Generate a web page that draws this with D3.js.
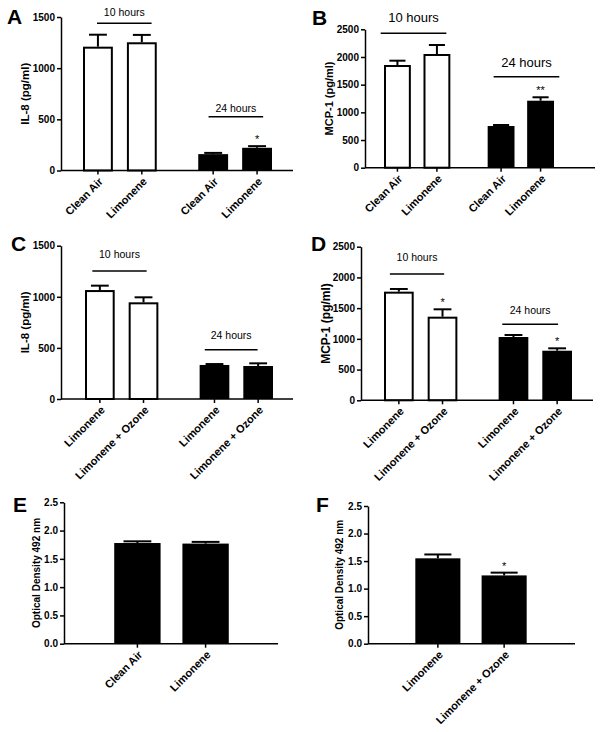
<!DOCTYPE html>
<html><head><meta charset="utf-8">
<script src="https://cdn.jsdelivr.net/npm/d3@7"></script>
<style>
body{margin:0;background:#fff}
text{font-family:"Liberation Sans",Arial,Helvetica,sans-serif;fill:#000}
</style>
</head><body>
<svg id="chart" width="602" height="732"></svg>
<script>
// ---------- DATA ----------
// Panel A : IL-8, clean air vs limonene
const groupsA = ["10 hours", "24 hours"];
const labelsA = ["Clean Air", "Limonene", "Clean Air", "Limonene"];
const meansA  = [1210, 1253, 160, 222];
const semsA   = [117, 72, 12, 16];
const starsA  = ["", "", "", "*"];
const ticksA  = [0, 500, 1000, 1500];

// Panel B : MCP-1, clean air vs limonene
const groupsB = ["10 hours", "24 hours"];
const labelsB = ["Clean Air", "Limonene", "Clean Air", "Limonene"];
const meansB  = [1855, 2054, 753, 1210];
const semsB   = [78, 162, 18, 62];
const starsB  = ["", "", "", "**"];
const ticksB  = [0, 500, 1000, 1500, 2000, 2500];

// Panel C : IL-8, limonene vs limonene + ozone
const groupsC = ["10 hours", "24 hours"];
const labelsC = ["Limonene", "Limonene + Ozone", "Limonene", "Limonene + Ozone"];
const meansC  = [1066, 946, 333, 323];
const semsC   = [43, 49, 9, 26];
const starsC  = ["", "", "", ""];
const ticksC  = [0, 500, 1000, 1500];

// Panel D : MCP-1, limonene vs limonene + ozone
const groupsD = ["10 hours", "24 hours"];
const labelsD = ["Limonene", "Limonene + Ozone", "Limonene", "Limonene + Ozone"];
const meansD  = [1768, 1361, 1030, 807];
const semsD   = [44, 120, 33, 39];
const starsD  = ["", "*", "", "*"];
const ticksD  = [0, 500, 1000, 1500, 2000, 2500];

// Panel E : optical density, clean air vs limonene
const groupsE = [""];
const labelsE = ["Clean Air", "Limonene"];
const meansE  = [1.78, 1.77];
const semsE   = [0.03, 0.03];
const starsE  = ["", ""];
const ticksE  = [0, 0.5, 1.0, 1.5, 2.0, 2.5];

// Panel F : optical density, limonene vs limonene + ozone
const groupsF = [""];
const labelsF = ["Limonene", "Limonene + Ozone"];
const meansF  = [1.55, 1.24];
const semsF   = [0.07, 0.05];
const starsF  = ["", "*"];
const ticksF  = [0, 0.5, 1.0, 1.5, 2.0, 2.5];

// ---------- LAYOUT ----------
const svg = d3.select("#chart");
svg.append("rect").attr("width", 602).attr("height", 732).attr("fill", "#fff");

const panels = [
  {letter: "A", lx: 7, ly: 24, yTitle: "IL-8 (pg/ml)", titleX: 25, titleSize: 11.5,
   axisX: 61, axisEnd: 293, y0: 170.5, yTop: 17, range: [83, 272], fmt: d3.format("d"),
   groups: groupsA, labels: labelsA, means: meansA, sems: semsA, stars: starsA, ticks: ticksA,
   brackets: [{a: 0.19, b: 0.93, v: 1439, dy: 7}, {a: 0.14, b: 0.88, v: 526, dy: 5}], hourSize: 10.5},
  {letter: "B", lx: 312, ly: 25, yTitle: "MCP-1 (pg/ml)", titleX: 329, titleSize: 11,
   axisX: 365, axisEnd: 595, y0: 167.7, yTop: 29.3, range: [384, 554], fmt: d3.format("d"),
   groups: groupsB, labels: labelsB, means: meansB, sems: semsB, stars: starsB, ticks: ticksB,
   brackets: [{a: -0.05, b: 0.94, v: 2428, dy: 11}, {a: 0.09, b: 1.08, v: 1644, dy: 10}], hourSize: 13},
  {letter: "C", lx: 11, ly: 251, yTitle: "IL-8 (pg/ml)", titleX: 25, titleSize: 11.5,
   axisX: 61, axisEnd: 293, y0: 399, yTop: 245.7, range: [85, 273], fmt: d3.format("d"),
   groups: groupsC, labels: labelsC, means: meansC, sems: semsC, stars: starsC, ticks: ticksC,
   brackets: [{a: 0.10, b: 0.84, v: 1252, dy: 13}, {a: 0.07, b: 0.79, v: 482, dy: 11}], hourSize: 10.5},
  {letter: "D", lx: 311, ly: 251, yTitle: "MCP-1 (pg/ml)", titleX: 326, titleSize: 12,
   axisX: 361, axisEnd: 593, y0: 400.3, yTop: 246.7, range: [384, 572], fmt: d3.format("d"),
   groups: groupsD, labels: labelsD, means: meansD, sems: semsD, stars: starsD, ticks: ticksD,
   brackets: [{a: 0.08, b: 0.82, v: 2056, dy: 13}, {a: 0.05, b: 0.81, v: 1237, dy: 10}], hourSize: 10.5},
  {letter: "E", lx: 13, ly: 512, yTitle: "Optical Density 492 nm", titleX: 36, titleSize: 10,
   axisX: 64, axisEnd: 278, y0: 643.7, yTop: 502.3, range: [82, 261], fmt: d3.format(".1f"),
   groups: groupsE, labels: labelsE, means: meansE, sems: semsE, stars: starsE, ticks: ticksE,
   brackets: [], allBlack: true},
  {letter: "F", lx: 316, ly: 512, yTitle: "Optical Density 492 nm", titleX: 339, titleSize: 10,
   axisX: 368, axisEnd: 575, y0: 643.7, yTop: 506, range: [384, 558], fmt: d3.format(".1f"),
   groups: groupsF, labels: labelsF, means: meansF, sems: semsF, stars: starsF, ticks: ticksF,
   brackets: [], allBlack: true}
];

panels.forEach(p => {
  const g = svg.append("g");
  const maxV = p.ticks[p.ticks.length - 1];
  const y = d3.scaleLinear().domain([0, maxV]).range([p.y0, p.yTop]);
  const per = p.labels.length / p.groups.length;
  const outer = d3.scaleBand().domain(p.groups).range(p.range).paddingInner(0.36).paddingOuter(0);
  const inner = d3.scaleBand().domain(d3.range(per)).range([0, outer.bandwidth()]).paddingInner(0.32).paddingOuter(0);
  const bw = inner.bandwidth();

  const data = p.labels.map((lab, i) => {
    const gi = Math.floor(i / per), j = i % per;
    return {lab, mean: p.means[i], sem: p.sems[i], star: p.stars[i], gi,
            x: outer(p.groups[gi]) + inner(j)};
  });

  // bars
  data.forEach(d => {
    const black = p.allBlack || d.gi === 1;
    if (black) {
      g.append("rect").attr("x", d.x).attr("y", y(d.mean))
        .attr("width", bw).attr("height", p.y0 - y(d.mean)).attr("fill", "#000");
    } else {
      g.append("rect").attr("x", d.x + 1).attr("y", y(d.mean) + 1)
        .attr("width", bw - 2).attr("height", p.y0 - y(d.mean) - 1)
        .attr("fill", "#fff").attr("stroke", "#000").attr("stroke-width", 2);
    }
    const cx = d.x + bw / 2, top = y(d.mean + d.sem);
    g.append("line").attr("x1", cx).attr("x2", cx).attr("y1", y(d.mean)).attr("y2", top)
      .attr("stroke", "#000").attr("stroke-width", 2);
    g.append("line").attr("x1", cx - bw * 0.3).attr("x2", cx + bw * 0.3).attr("y1", top).attr("y2", top)
      .attr("stroke", "#000").attr("stroke-width", 2);
    if (d.star) {
      g.append("text").attr("x", cx).attr("y", top - 3).attr("text-anchor", "middle")
        .attr("font-size", 11).text(d.star);
    }
    // x tick + rotated label
    g.append("line").attr("x1", cx).attr("x2", cx).attr("y1", p.y0).attr("y2", p.y0 + 4)
      .attr("stroke", "#000").attr("stroke-width", 1.5);
    g.append("text").attr("transform", `translate(${cx + 3},${p.y0 + 9}) rotate(-45)`)
      .attr("text-anchor", "end").attr("dy", "0.35em")
      .attr("font-size", 11).attr("font-weight", "bold").text(d.lab);
  });

  // x axis line
  g.append("line").attr("x1", p.axisX).attr("x2", p.axisEnd).attr("y1", p.y0).attr("y2", p.y0)
    .attr("stroke", "#000").attr("stroke-width", 1.5);

  // y axis
  const ax = g.append("g").attr("transform", `translate(${p.axisX},0)`)
    .call(d3.axisLeft(y).tickValues(p.ticks).tickFormat(p.fmt).tickSize(4).tickSizeOuter(0).tickPadding(2));
  ax.select(".domain").attr("stroke", "#000").attr("stroke-width", 1.5);
  ax.selectAll(".tick line").attr("stroke", "#000").attr("stroke-width", 1.5);
  ax.selectAll(".tick text").attr("font-size", 10).attr("font-weight", "bold")
    .attr("font-family", "Liberation Sans, Arial, sans-serif").attr("fill", "#000");

  // y title
  g.append("text").attr("transform", `translate(${p.titleX},${(p.y0 + p.yTop) / 2}) rotate(-90)`)
    .attr("text-anchor", "middle").attr("dy", "0.35em")
    .attr("font-size", p.titleSize).attr("font-weight", "bold").text(p.yTitle);

  // group brackets
  p.brackets.forEach((b, gi) => {
    const gx = outer(p.groups[gi]), w = outer.bandwidth();
    const x1 = gx + b.a * w, x2 = gx + b.b * w, yy = y(b.v);
    g.append("line").attr("x1", x1).attr("x2", x2).attr("y1", yy).attr("y2", yy)
      .attr("stroke", "#000").attr("stroke-width", 1.5);
    g.append("text").attr("x", (x1 + x2) / 2).attr("y", yy - b.dy).attr("text-anchor", "middle")
      .attr("font-size", p.hourSize).text(p.groups[gi]);
  });

  // panel letter
  g.append("text").attr("x", p.lx).attr("y", p.ly).attr("font-size", 21).attr("font-weight", "bold").text(p.letter);
});
</script>
</body></html>
